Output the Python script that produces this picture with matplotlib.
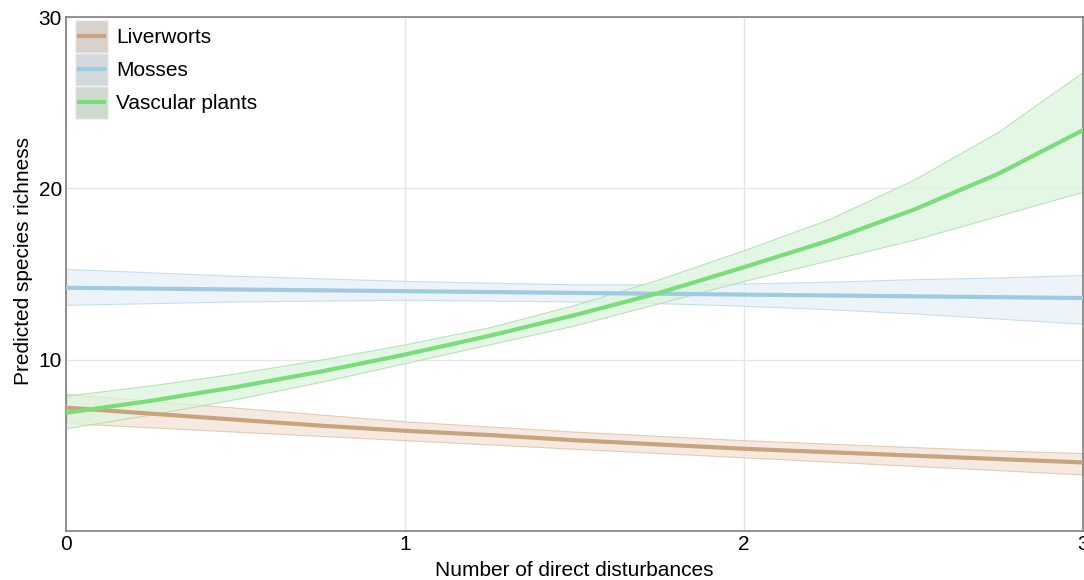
from matplotlib import pyplot as plt
from matplotlib.patches import Rectangle
from matplotlib.lines import Line2D

plt.rcParams["font.family"] = ["Liberation Sans", "DejaVu Sans"]

# number of direct disturbances
disturbances = [0, 0.25, 0.5, 0.75, 1, 1.25, 1.5, 1.75, 2, 2.25, 2.5, 2.75, 3]

# predicted richness + 95% CI
liver_fit = [7.2, 6.85, 6.5, 6.15, 5.85, 5.6, 5.3, 5.05, 4.8, 4.6, 4.4, 4.2, 4.0]
liver_lo = [6.3, 6.05, 5.8, 5.55, 5.3, 5.05, 4.8, 4.55, 4.3, 4.05, 3.8, 3.55, 3.3]
liver_hi = [8.0, 7.6, 7.2, 6.8, 6.4, 6.1, 5.8, 5.55, 5.3, 5.1, 4.9, 4.7, 4.55]

moss_fit = [14.2, 14.15, 14.1, 14.05, 14.0, 13.95, 13.9, 13.85, 13.8, 13.75, 13.7, 13.65, 13.6]
moss_lo = [13.2, 13.3, 13.4, 13.45, 13.5, 13.45, 13.4, 13.3, 13.15, 12.95, 12.7, 12.4, 12.1]
moss_hi = [15.3, 15.1, 14.9, 14.75, 14.6, 14.5, 14.4, 14.4, 14.45, 14.55, 14.7, 14.8, 14.95]

vasc_fit = [6.9, 7.6, 8.4, 9.3, 10.3, 11.4, 12.6, 13.9, 15.4, 16.95, 18.75, 20.85, 23.4]
vasc_lo = [6.0, 6.8, 7.7, 8.7, 9.8, 10.9, 12.0, 13.3, 14.6, 15.8, 17.0, 18.4, 19.8]
vasc_hi = [7.9, 8.5, 9.2, 10.0, 10.9, 11.9, 13.2, 14.7, 16.4, 18.2, 20.5, 23.3, 26.8]

groups = ["Liverworts", "Mosses", "Vascular plants"]
line_cols = ["#c8a47e", "#9fcbe0", "#7bdc7b"]
fill_cols = ["#f3e3d6", "#e6f1f9", "#dcf5dc"]
edge_cols = ["#d8bfa6", "#b9d6e6", "#a9d9a9"]
key_cols = ["#d8d2cc", "#d3d8dc", "#d0dbd0"]


class KeyHandler:
    """ggplot-like legend key: grey square with the line across it"""

    def __init__(self, box_col, line_col):
        self.box_col = box_col
        self.line_col = line_col

    def legend_artist(self, legend, orig_handle, fontsize, handlebox):
        x0, y0 = handlebox.xdescent, handlebox.ydescent
        w, h = handlebox.width, handlebox.height
        tr = handlebox.get_transform()
        box = Rectangle((-x0, -y0), w, h, facecolor=self.box_col,
                        edgecolor="#f2f2f2", linewidth=1, transform=tr)
        ln = Line2D([-x0 + 0.12 * w, -x0 + 0.88 * w], [-y0 + h / 2] * 2,
                    color=self.line_col, linewidth=3, transform=tr)
        handlebox.add_artist(box)
        handlebox.add_artist(ln)
        return box


def plot_richness():
    fig = plt.figure(figsize=(10.84, 5.8), dpi=100)
    ax = fig.add_axes([0.061, 0.0845, 0.938, 0.886])

    series = [(liver_fit, liver_lo, liver_hi),
              (moss_fit, moss_lo, moss_hi),
              (vasc_fit, vasc_lo, vasc_hi)]
    for (fit, lo, hi), fc, ec in zip(series, fill_cols, edge_cols):
        ax.fill_between(disturbances, lo, hi, facecolor=fc, edgecolor=ec,
                        linewidth=0.8, alpha=0.75, zorder=2)
    for (fit, lo, hi), lc in zip(series, line_cols):
        ax.plot(disturbances, fit, color=lc, linewidth=3, zorder=3)

    ax.set_xlim(0, 3)
    ax.set_ylim(0, 30)
    ax.set_xticks([0, 1, 2, 3])
    ax.set_yticks([10, 20, 30])
    ax.grid(True, color="#e6e6e6", linewidth=1, zorder=0)
    ax.set_axisbelow(True)
    ax.tick_params(length=0, labelsize=15, pad=3)
    for s in ax.spines.values():
        s.set_color("#7f7f7f")
        s.set_linewidth(1.2)

    ax.set_xlabel("Number of direct disturbances", fontsize=15, labelpad=5)
    ax.set_ylabel("Predicted species richness", fontsize=15)
    ax.yaxis.set_label_coords(-0.033, 0.525)

    # legend
    keys = [Line2D([], []) for _ in groups]
    hmap = {k: KeyHandler(bc, lc) for k, bc, lc in zip(keys, key_cols, line_cols)}
    ax.legend(keys, groups, handler_map=hmap, loc="upper left",
              bbox_to_anchor=(0.007, 0.999), frameon=False,
              fontsize=15, handlelength=1.55, handleheight=2.06,
              handletextpad=0.4, labelspacing=0.0, borderaxespad=0.0,
              borderpad=0.1)

    plt.savefig("out.png", dpi=100)


if __name__ == "__main__":
    plot_richness()
